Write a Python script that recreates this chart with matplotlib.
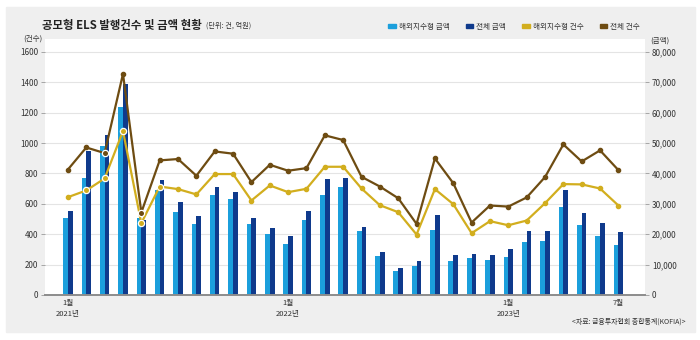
import numpy as np
import matplotlib
matplotlib.use('Agg')
import matplotlib.pyplot as plt
from matplotlib.patches import Patch, Rectangle

plt.rcParams['font.family'] = ['Noto Sans CJK KR', 'DejaVu Sans']

# 2021년 1월 ~ 2023년 7월 (월별)
months = np.arange(31)
tick_pos = [0, 12, 24, 30]
tick_labels = ['1월\n2021년', '1월\n2022년', '1월\n2023년', '7월']

# 금액 (억원)
overseas_amt = [25250, 38450, 48900, 61750, 25200, 34600, 27250, 23400, 32750, 31650,
                23500, 20100, 16700, 24750, 32750, 35600, 21100, 12750, 8000, 9650,
                21550, 11100, 12300, 11450, 12550, 17600, 17800, 28800, 23200, 19350, 16400]
total_amt = [27700, 47500, 52750, 69500, 24600, 37700, 30650, 26150, 35400, 33850,
             25500, 22200, 19550, 27600, 38250, 38450, 22400, 14050, 8900, 11300,
             26350, 13200, 13650, 13300, 15050, 20900, 20900, 34500, 27050, 23750, 20750]

# 건수 (건)
overseas_cnt = [644, 688, 767, 1079, 473, 714, 697, 662, 796, 796,
                622, 721, 677, 699, 844, 844, 701, 591, 545, 398,
                697, 598, 407, 486, 459, 490, 604, 730, 728, 701, 589]
total_cnt = [826, 971, 934, 1455, 543, 886, 895, 785, 945, 930,
             743, 857, 818, 835, 1051, 1020, 778, 714, 637, 468,
             899, 736, 477, 589, 582, 642, 776, 991, 879, 952, 822]

# 흰 테두리로 강조된 점
hl_overseas = [1, 2, 3, 4, 5]
hl_total = [2, 4]

c_light = '#1b9fdc'
c_dark = '#0f3a8c'
c_gold = '#d2ae1e'
c_brown = '#6e4c12'
c_grid = '#e4e4e4'
c_text = '#333333'

fig = plt.figure(figsize=(7, 3.4), dpi=100)
fig.patches.append(Rectangle((6/700, 1-332/340), 689/700, 325/340,
                             transform=fig.transFigure, color='#efefef', zorder=-10))

ax = fig.add_axes([45/700, 1-295/340, 600/700, 256/340])
ax2 = ax.twinx()
ax.set_zorder(2)
ax2.set_zorder(1)
ax.patch.set_visible(False)
ax2.patch.set_visible(True)
ax2.patch.set_facecolor('white')

cnt_top = 1685
ax.set_ylim(0, cnt_top)
ax2.set_ylim(0, cnt_top * 50)
ax.set_xlim(-1.25, 31.45)

w = 0.26
ax2.bar(months - w/2, overseas_amt, width=w, color=c_light, zorder=2)
ax2.bar(months + w/2, total_amt, width=w, color=c_dark, zorder=2)
ax2.set_yticks(np.arange(0, 80001, 10000))
ax2.yaxis.grid(True, color=c_grid, linewidth=0.8)
ax2.set_axisbelow(True)

ax.plot(months, total_cnt, color=c_brown, lw=1.6, marker='o', ms=3, zorder=3)
ax.plot(months, overseas_cnt, color=c_gold, lw=1.6, marker='o', ms=3, zorder=3)
ax.plot(months[hl_total], np.array(total_cnt)[hl_total], 'o', color=c_brown,
        ms=4.5, mec='white', mew=0.9, zorder=4)
ax.plot(months[hl_overseas], np.array(overseas_cnt)[hl_overseas], 'o', color=c_gold,
        ms=4.5, mec='white', mew=0.9, zorder=4)

ax.set_yticks(np.arange(0, 1601, 200))
ax.set_xticks(tick_pos)
ax.set_xticklabels(tick_labels, fontsize=5.5, color=c_text, linespacing=1.5)
ax.tick_params(axis='x', length=0, pad=3)
ax.tick_params(axis='y', length=3, width=0.6, color='#999999', labelsize=5.8,
               labelcolor=c_text, pad=2)
ax2.tick_params(axis='y', length=3, width=0.6, color='#999999', labelsize=5.8,
                labelcolor=c_text, pad=2)
ax2.set_yticklabels([f'{v:,}' for v in range(0, 80001, 10000)])

for a in (ax, ax2):
    for s in ('top', 'left', 'right'):
        a.spines[s].set_visible(False)
ax.spines['bottom'].set_color('#8c8c8c')
ax.spines['bottom'].set_linewidth(1.4)
ax2.spines['bottom'].set_visible(False)

fig.text(42/700, 1-25/340, '공모형 ELS 발행건수 및 금액 현황', fontsize=8.2,
         fontweight='bold', color='#222222', va='center')
fig.text(206/700, 1-26/340, '(단위: 건, 억원)', fontsize=5.2, color=c_text, va='center')
fig.text(33/700, 1-39/340, '(건수)', fontsize=5.5, color=c_text, ha='center', va='center')
fig.text(650/700, 1-41/340, '(금액)', fontsize=5.5, color=c_text, ha='left', va='center')
fig.text(686/700, 1-322/340, '<자료: 금융투자협회 종합통계(KOFIA)>', fontsize=5,
         color=c_text, ha='right', va='center')

handles = [Patch(color=c_light, label='해외지수형 금액'),
           Patch(color=c_dark, label='전체 금액'),
           Patch(color=c_gold, label='해외지수형 건수'),
           Patch(color=c_brown, label='전체 건수')]
fig.legend(handles=handles, loc='center right', bbox_to_anchor=(647/700, 1-27/340),
           ncol=4, frameon=False, fontsize=5.5, handlelength=1.0, handleheight=0.45,
           handletextpad=0.4, columnspacing=2.1, labelcolor=c_text)

fig.savefig('out.png', dpi=100)
